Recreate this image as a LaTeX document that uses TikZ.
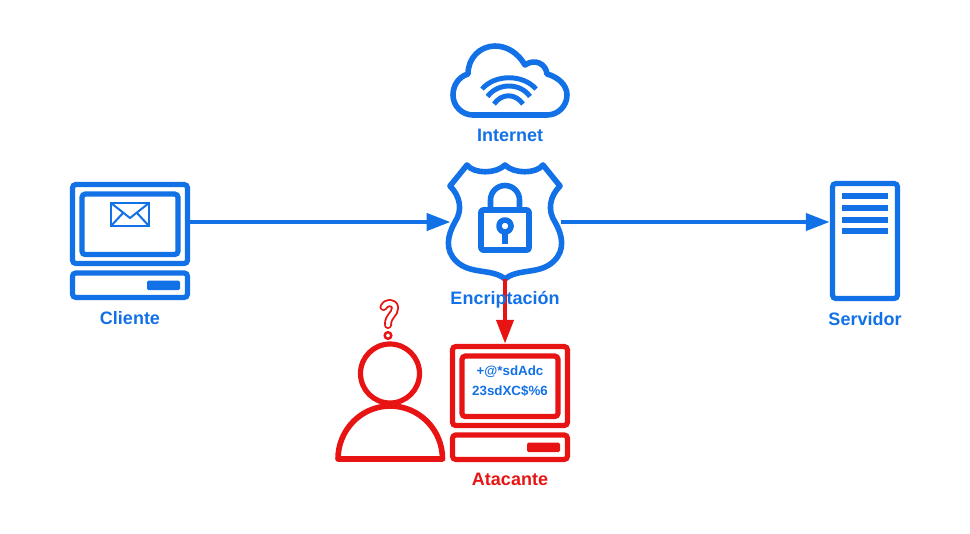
\documentclass[tikz,border=0pt]{standalone}
\usepackage{fontspec}
\setmainfont{Liberation Sans}
\usetikzlibrary{arrows.meta}
\definecolor{netblue}{RGB}{18,113,230}
\definecolor{attackred}{RGB}{232,20,20}
\tikzset{
  icon/.style={line width=4.2pt,line join=round,fill=none},
  screen/.style={rectangle,line width=3.9pt,rounded corners=2.5pt,inner sep=0pt,fill=white},
  label/.style={font=\fontsize{13.5pt}{16pt}\selectfont\bfseries,inner sep=0pt},
  cipher/.style={font=\fontsize{10pt}{12pt}\selectfont\bfseries,text=netblue,inner sep=0pt},
  link/.style={line width=3.6pt,-{Triangle[length=18pt,width=12.5pt]}},
  spot/.style={inner sep=0pt,minimum width=0pt,minimum height=0pt}
}
\begin{document}
\begin{tikzpicture}[x=0.75pt,y=-0.75pt]
\useasboundingbox (0,0) rectangle (970,533);

% Client computer
\node[screen,draw=netblue,minimum width=86.25pt,minimum height=59.25pt] (cliente) at (130,224) {};
\node[screen,draw=netblue,minimum width=72pt,minimum height=45.4pt] (clientescreen) at (130,224.3) {};
\node[screen,draw=netblue,minimum width=86.25pt,minimum height=18.4pt] (clientebase) at (130,285.2) {};
\fill[netblue,rounded corners=1pt] (147,280.7) rectangle (180,290);
\draw[netblue,line width=1.5pt,line join=miter] (111,203) rectangle (149,226);
\draw[netblue,line width=1.5pt] (111,203) -- (130,218) -- (149,203) (111,226) -- (123,213) (149,226) -- (137,213);

% Cloud
\draw[icon,draw=netblue] (473,115) -- (547,115)
  .. controls (558,115) and (567,106) .. (567,95)
  .. controls (567,85) and (558,77) .. (547,74)
  .. controls (546,64) and (535,58) .. (525,65)
  .. controls (518,53) and (507,46) .. (495,46)
  .. controls (480,46) and (468,58) .. (468,74)
  .. controls (458,77) and (453,86) .. (453,95)
  .. controls (453,106) and (462,115) .. (473,115) -- cycle;
\draw[netblue,line width=3.7pt] (482,89) .. controls (495,74) and (523,74) .. (536,89);
\draw[netblue,line width=3.7pt] (487.5,96.5) .. controls (498,82.5) and (520,82.5) .. (530,96.5);
\draw[netblue,line width=3.7pt] (494,104) .. controls (502,93) and (515,93) .. (523,104);

% Shield
\node[spot,minimum width=82.5pt,minimum height=85.5pt] (shield) at (506,222) {};
\draw[icon,draw=netblue] (467,165)
  .. controls (474,174) and (496,174) .. (505,165)
  .. controls (514,174) and (536,174) .. (543,165)
  -- (560,186)
  .. controls (550,196) and (547,210) .. (555,222)
  .. controls (563,236) and (565,250) .. (554,261)
  .. controls (540,275) and (518,268) .. (505,279)
  .. controls (492,268) and (470,275) .. (456,261)
  .. controls (445,250) and (447,236) .. (455,222)
  .. controls (463,210) and (460,196) .. (450,186)
  -- cycle;
% Padlock
\draw[icon,draw=netblue] (490.5,210) -- (490.5,200) arc[start angle=180,end angle=360,radius=14.5] -- (519.5,210);
\draw[icon,draw=netblue,rounded corners=1.5pt] (481,210) rectangle (529,250);
\draw[icon,draw=netblue] (505,226) circle[radius=6];
\draw[icon,draw=netblue] (505,232) -- (505,243.5);

% Server
\node[screen,draw=netblue,minimum width=48.75pt,minimum height=86.25pt] (servidor) at (865,241) {};
\foreach \yy in {196,207.7,219.7,231.3}
  \fill[netblue] (842,\yy-3) rectangle (888,\yy+3);

% Attacker computer
\node[screen,draw=attackred,minimum width=86.25pt,minimum height=59.25pt] (atacante) at (510,386) {};
\node[screen,draw=attackred,minimum width=72pt,minimum height=45.4pt] (atacantescreen) at (510,386.3) {};
\node[screen,draw=attackred,minimum width=86.25pt,minimum height=18.4pt] (atacantebase) at (510,447.2) {};
\fill[attackred,rounded corners=1pt] (527,442.7) rectangle (560,452);
\node[cipher] (cipherone) at (510,371.5) {+@*sdAdc};
\node[cipher] (ciphertwo) at (510,391.5) {23sdXC\$\%6};

% Attacker person
\draw[icon,draw=attackred] (338,459) arc[start angle=180,end angle=360,x radius=52.25,y radius=53] -- cycle;
\node[draw=attackred,circle,line width=3.9pt,fill=white,inner sep=0pt,minimum size=44.25pt] (cabeza) at (390,373.5) {};
% Question mark
\draw[attackred,line width=6pt,line cap=round,line join=round] (383.5,307) .. controls (385,302) and (395,301) .. (395,308) .. controls (395,315) and (388,315) .. (388,325);
\draw[white,line width=3.2pt,line cap=round,line join=round] (383.5,307) .. controls (385,302) and (395,301) .. (395,308) .. controls (395,315) and (388,315) .. (388,325);
\draw[attackred,line width=1.8pt,fill=white] (388,335.5) circle[radius=3.3];

% Connectors
\draw[link,netblue] (shield.west -| cliente.east) -- (shield.west);
\draw[link,netblue] (shield.east) -- (shield.east -| servidor.west);
\draw[link,attackred] (shield.south -| 505,0) -- (505,0 |- atacante.north);

% Labels
\node[label,text=netblue] (internetlabel) at (510,135.5) {Internet};
\node[label,text=netblue] (shieldlabel) at (505,299.8) {Encriptación};
\node[label,text=netblue] (clientelabel) at (130,317.8) {Cliente};
\node[label,text=netblue] (servidorlabel) at (865,318.8) {Servidor};
\node[label,text=attackred] (atacantelabel) at (510,479.8) {Atacante};
\end{tikzpicture}
\end{document}
